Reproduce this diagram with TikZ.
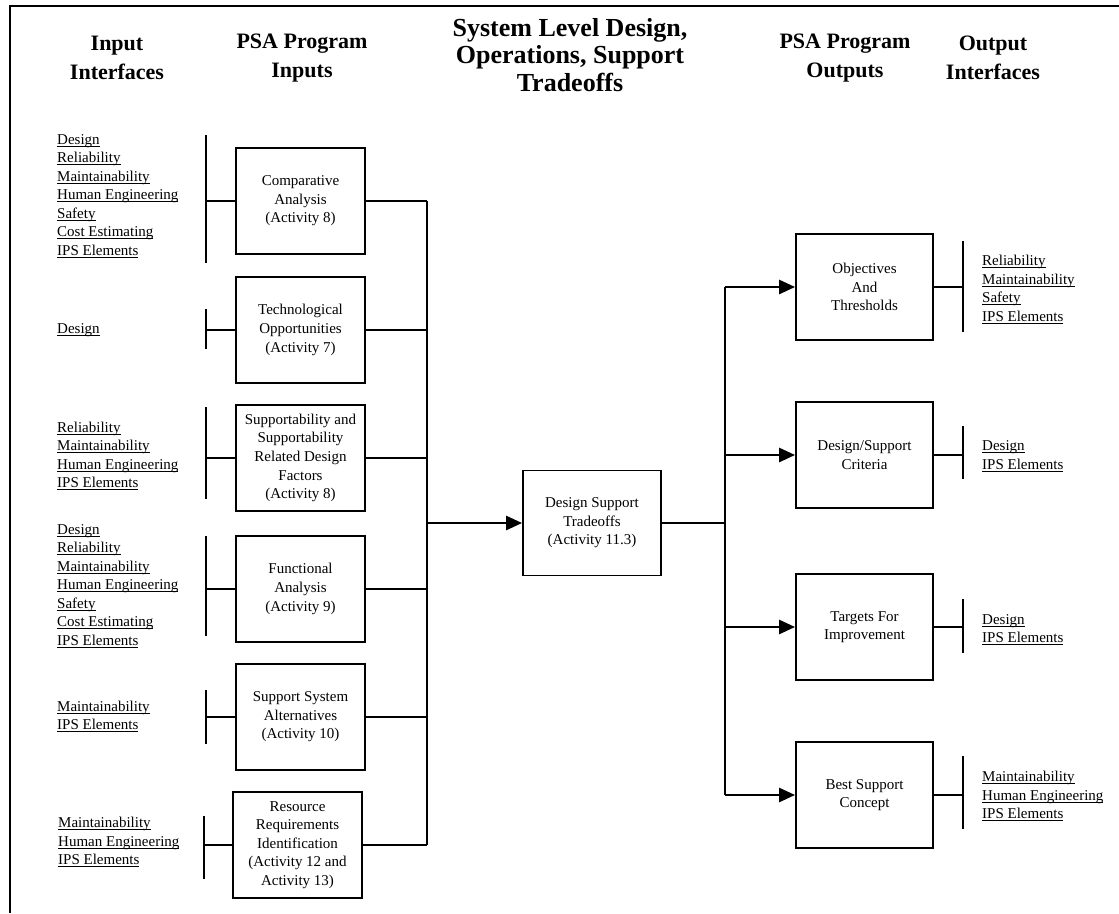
\documentclass[tikz,border=0pt]{standalone}
\usepackage{fontspec}
\setmainfont{Liberation Serif}
\usetikzlibrary{arrows.meta}
\newsavebox\ulbox
\newcommand\ul[1]{\sbox\ulbox{#1}\rlap{\rule[-2.2pt]{\wd\ulbox}{0.8pt}}\usebox\ulbox}
\tikzset{
  head/.style={align=center, inner sep=0pt, font=\bfseries\fontsize{22}{28.5}\selectfont},
  headbig/.style={align=center, inner sep=0pt, font=\bfseries\fontsize{26}{27.3}\selectfont},
  inbox/.style={draw, line width=1.8pt, minimum width=129pt, minimum height=106pt, align=center, inner sep=2pt, font=\fontsize{15}{18.6}\selectfont},
  outbox/.style={inbox, minimum width=137pt},
  midbox/.style={inbox, minimum width=138pt, minimum height=105pt},
  list/.style={anchor=west, align=left, inner sep=0pt, font=\fontsize{15}{18.5}\selectfont},
  conn/.style={line width=1.8pt},
  bus/.style={line width=2pt},
  arr/.style={line width=2.6pt, -{Triangle[length=16pt,width=14pt]}},
  frame/.style={line width=2pt}
}
\begin{document}
\begin{tikzpicture}[x=1pt,y=-1pt]
\useasboundingbox (0,0) rectangle (1119,913);
% frame
\coordinate (ftr) at (1119,6);
\coordinate (ftl) at (10,6);
\coordinate (fbl) at (10,913);
\draw[frame] (ftr) -- (ftl) -- (fbl);

% headings
\node[head] (hii) at (117,58) {Input\\Interfaces};
\node[head] (hpi) at (302,58) {PSA Program\\Inputs};
\node[headbig] (hsl) at (570,55) {System Level Design,\\Operations, Support\\Tradeoffs};
\node[head] (hpo) at (845,58) {PSA Program\\Outputs};
\node[head] (hoi) at (993,58) {Output\\Interfaces};

% input boxes
\node[inbox] (i1) at (300.5,201) {Comparative\\Analysis\\(Activity 8)};
\node[inbox] (i2) at (300.5,330) {Technological\\Opportunities\\(Activity 7)};
\node[inbox] (i3) at (300.5,458) {Supportability and\\Supportability\\Related Design\\Factors\\(Activity 8)};
\node[inbox] (i4) at (300.5,589) {Functional\\Analysis\\(Activity 9)};
\node[inbox] (i5) at (300.5,717) {Support System\\Alternatives\\(Activity 10)};
\node[inbox] (i6) at (297.5,845) {Resource\\Requirements\\Identification\\(Activity 12 and\\Activity 13)};

% centre box
\node[midbox] (ds) at (592,523) {Design Support\\Tradeoffs\\(Activity 11.3)};

% output boxes
\node[outbox] (o1) at (864.5,287) {Objectives\\And\\Thresholds};
\node[outbox] (o2) at (864.5,455) {Design/Support\\Criteria};
\node[outbox] (o3) at (864.5,627) {Targets For\\Improvement};
\node[outbox] (o4) at (864.5,795) {Best Support\\Concept};

% input interface lists
\node[list] (l1) at (57,196) {\ul{Design}\\\ul{Reliability}\\\ul{Maintainability}\\\ul{Human Engineering}\\\ul{Safety}\\\ul{Cost Estimating}\\\ul{IPS Elements}};
\node[list] (l2) at (57,330.5) {\ul{Design}};
\node[list] (l3) at (57,456) {\ul{Reliability}\\\ul{Maintainability}\\\ul{Human Engineering}\\\ul{IPS Elements}};
\node[list] (l4) at (57,586) {\ul{Design}\\\ul{Reliability}\\\ul{Maintainability}\\\ul{Human Engineering}\\\ul{Safety}\\\ul{Cost Estimating}\\\ul{IPS Elements}};
\node[list] (l5) at (57,716.5) {\ul{Maintainability}\\\ul{IPS Elements}};
\node[list] (l6) at (58,842) {\ul{Maintainability}\\\ul{Human Engineering}\\\ul{IPS Elements}};

% output interface lists
\node[list] (r1) at (982,289.5) {\ul{Reliability}\\\ul{Maintainability}\\\ul{Safety}\\\ul{IPS Elements}};
\node[list] (r2) at (982,456) {\ul{Design}\\\ul{IPS Elements}};
\node[list] (r3) at (982,629.5) {\ul{Design}\\\ul{IPS Elements}};
\node[list] (r4) at (982,796) {\ul{Maintainability}\\\ul{Human Engineering}\\\ul{IPS Elements}};

% input brackets
\coordinate (b1t) at (206,135); \coordinate (b1b) at (206,263);
\coordinate (b2t) at (206,309); \coordinate (b2b) at (206,349);
\coordinate (b3t) at (206,407); \coordinate (b3b) at (206,499);
\coordinate (b4t) at (206,536); \coordinate (b4b) at (206,636);
\coordinate (b5t) at (206,690); \coordinate (b5b) at (206,744);
\coordinate (b6t) at (204,816); \coordinate (b6b) at (204,879);
\foreach \k in {1,...,6}{
  \draw[conn] (b\k t) -- (b\k b);
  \draw[conn] (i\k.west) -- (i\k.west -| b\k t);
}

% left bus
\coordinate (bl) at (427,523);
\foreach \k in {1,...,6}{
  \draw[conn] (i\k.east) -- (i\k.east -| bl);
}
\draw[bus] (i1.east -| bl) -- (i6.east -| bl);
\draw[arr] (bl) -- (ds.west);

% right bus
\coordinate (br) at (725,523);
\draw[conn] (ds.east) -- (br);
\draw[bus] (o1.west -| br) -- (o4.west -| br);
\foreach \k in {1,...,4}{
  \draw[arr] (o\k.west -| br) -- (o\k.west);
}

% output brackets
\coordinate (c1t) at (963,241); \coordinate (c1b) at (963,332);
\coordinate (c2t) at (963,426); \coordinate (c2b) at (963,479);
\coordinate (c3t) at (963,599); \coordinate (c3b) at (963,653);
\coordinate (c4t) at (963,756); \coordinate (c4b) at (963,829);
\foreach \k in {1,...,4}{
  \draw[conn] (c\k t) -- (c\k b);
  \draw[conn] (o\k.east) -- (o\k.east -| c\k t);
}
\end{tikzpicture}
\end{document}
